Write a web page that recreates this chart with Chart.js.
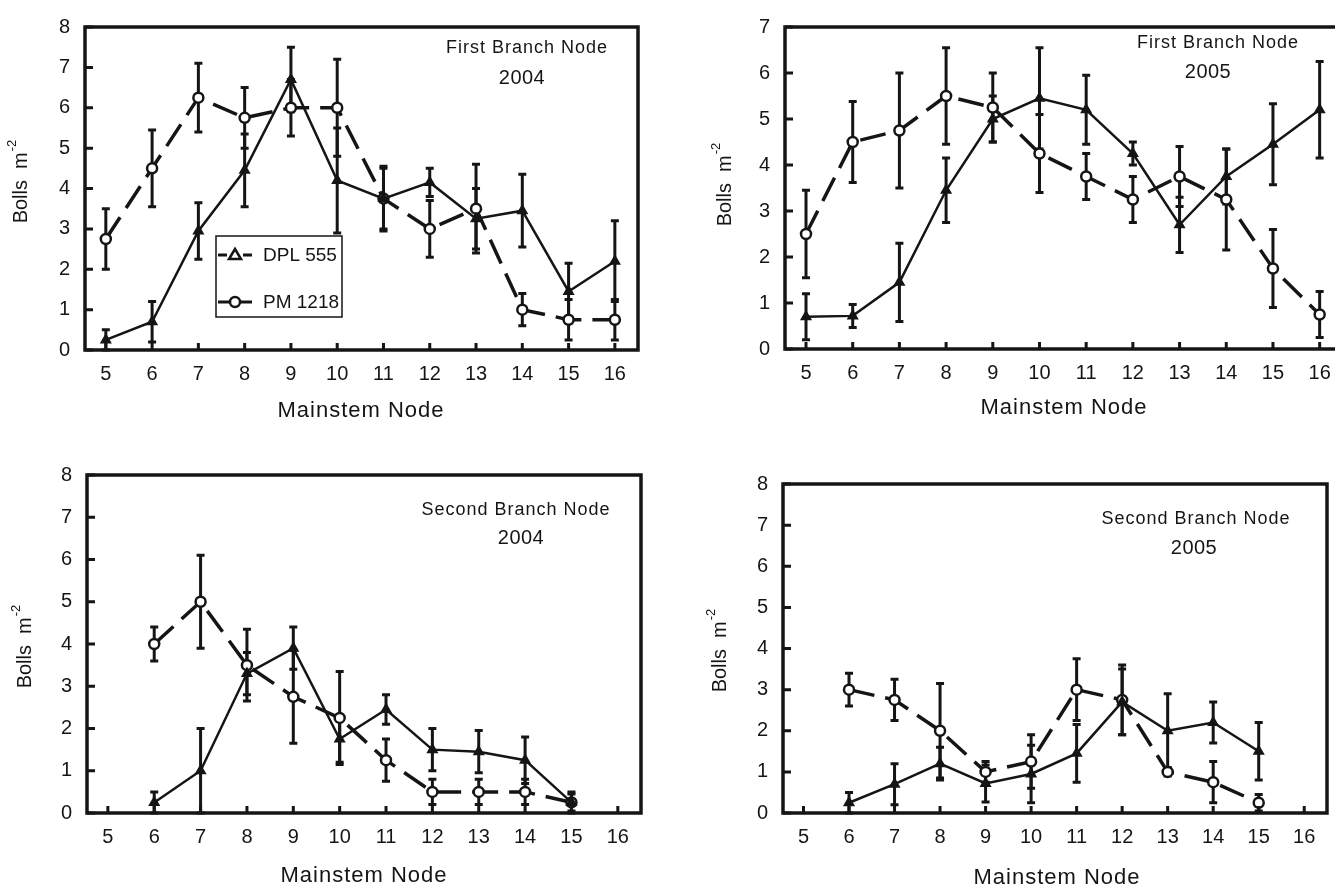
<!DOCTYPE html>
<html>
<head>
<meta charset="utf-8">
<script src="https://cdn.jsdelivr.net/npm/chart.js@4.4.1/dist/chart.umd.min.js"></script>
<style>
  html, body { margin: 0; padding: 0; background: #fff; overflow: hidden; width: 1335px; height: 886px; position: relative; }
  canvas { position: absolute; }
</style>
</head>
<body>
<canvas id="fb2004" width="668" height="440" style="left:0px;top:0px;width:668px;height:440px"></canvas>
<canvas id="fb2005" width="700" height="440" style="left:668px;top:0px;width:700px;height:440px"></canvas>
<canvas id="sb2004" width="668" height="446" style="left:0px;top:440px;width:668px;height:446px"></canvas>
<canvas id="sb2005" width="667" height="446" style="left:668px;top:440px;width:667px;height:446px"></canvas>
<script>
// Mainstem nodes on the x axis
const nodes = [5, 6, 7, 8, 9, 10, 11, 12, 13, 14, 15, 16];
const cultivars = ['DPL 555', 'PM 1218'];

// First branch node, 2004 (bolls per m², mean and SE)
const fb04Dpl   = [0.25, 0.7, 2.95, 4.45, 6.7, 4.2, 3.75, 4.15, 3.25, 3.45, 1.45, 2.2];
const fb04DplSe = [0.25, 0.5, 0.7, 0.9, 0.8, 1.3, 0.8, 0.35, 0.75, 0.9, 0.7, 1.0];
const fb04Pm    = [2.75, 4.5, 6.25, 5.75, 6.0, 6.0, 3.75, 3.0, 3.5, 1.0, 0.75, 0.75];
const fb04PmSe  = [0.75, 0.95, 0.85, 0.75, 0.7, 1.2, 0.75, 0.7, 1.1, 0.4, 0.5, 0.5];

// First branch node, 2005
const fb05Dpl   = [0.7, 0.72, 1.45, 3.45, 5.0, 5.45, 5.2, 4.25, 2.7, 3.75, 4.45, 5.2];
const fb05DplSe = [0.5, 0.25, 0.85, 0.7, 0.5, 1.1, 0.75, 0.25, 0.6, 0.6, 0.88, 1.05];
const fb05Pm    = [2.5, 4.5, 4.75, 5.5, 5.25, 4.25, 3.75, 3.25, 3.75, 3.25, 1.75, 0.75];
const fb05PmSe  = [0.95, 0.88, 1.25, 1.05, 0.75, 0.85, 0.5, 0.5, 0.65, 1.1, 0.85, 0.5];

// Second branch node, 2004
const sb04Dpl   = [null, 0.25, 1.0, 3.3, 3.9, 1.75, 2.45, 1.5, 1.45, 1.25, 0.25, null];
const sb04DplSe = [null, 0.25, 1.0, 0.5, 0.5, 0.55, 0.35, 0.5, 0.5, 0.55, 0.25, null];
const sb04Pm    = [null, 4.0, 5.0, 3.5, 2.75, 2.25, 1.25, 0.5, 0.5, 0.5, 0.25, null];
const sb04PmSe  = [null, 0.4, 1.1, 0.85, 1.1, 1.1, 0.5, 0.3, 0.3, 0.3, 0.2, null];

// Second branch node, 2005
const sb05Dpl   = [null, 0.25, 0.7, 1.2, 0.72, 0.95, 1.45, 2.7, 2.0, 2.2, 1.5, null];
const sb05DplSe = [null, 0.25, 0.5, 0.4, 0.45, 0.7, 0.7, 0.8, 0.9, 0.5, 0.7, null];
const sb05Pm    = [null, 3.0, 2.75, 2.0, 1.0, 1.25, 3.0, 2.75, 1.0, 0.75, 0.25, null];
const sb05PmSe  = [null, 0.4, 0.5, 1.15, 0.25, 0.65, 0.75, 0.85, 0.1, 0.5, 0.2, null];

const FONT = '"Liberation Sans", Arial, sans-serif';
const INK = '#151515';

function points(vals) {
  return nodes.map((n, i) => ({ x: n, y: vals[i] }));
}

// Frame, inward ticks, error bars, axis titles, panel label and legend
const decor = {
  id: 'decor',
  beforeDatasetsDraw(chart) {
    const ctx = chart.ctx, xs = chart.scales.x, ys = chart.scales.y;
    ctx.save();
    ctx.strokeStyle = INK;
    ctx.lineWidth = 3;
    chart.data.datasets.forEach(ds => {
      ds.data.forEach((p, i) => {
        const e = ds.errors[i];
        if (p.y == null || e == null) return;
        const x = xs.getPixelForValue(p.x);
        const yt = ys.getPixelForValue(p.y + e);
        const yb = ys.getPixelForValue(Math.max(0, p.y - e));
        ctx.beginPath();
        ctx.moveTo(x, yt); ctx.lineTo(x, yb);
        ctx.moveTo(x - 4, yt); ctx.lineTo(x + 4, yt);
        ctx.moveTo(x - 4, yb); ctx.lineTo(x + 4, yb);
        ctx.stroke();
      });
    });
    ctx.restore();
  },
  afterDraw(chart, args, o) {
    const ctx = chart.ctx, a = chart.chartArea;
    const xs = chart.scales.x, ys = chart.scales.y;
    ctx.save();
    // plot frame
    ctx.strokeStyle = INK;
    ctx.lineWidth = 3.5;
    ctx.strokeRect(a.left, a.top, a.right - a.left, a.bottom - a.top);
    // inward tick marks
    ctx.lineWidth = 3;
    ctx.beginPath();
    xs.ticks.forEach(t => {
      const x = xs.getPixelForValue(t.value);
      ctx.moveTo(x, a.bottom); ctx.lineTo(x, a.bottom - 7);
    });
    ys.ticks.forEach(t => {
      const y = ys.getPixelForValue(t.value);
      ctx.moveTo(a.left, y); ctx.lineTo(a.left + 8, y);
    });
    ctx.stroke();

    ctx.fillStyle = INK;
    ctx.textBaseline = 'middle';
    ctx.textAlign = 'center';
    // x axis title
    ctx.font = '22px ' + FONT;
    ctx.letterSpacing = '1px';
    ctx.fillText('Mainstem Node', o.xTitle[0], o.xTitle[1]);
    // y axis title with superscript
    ctx.save();
    ctx.translate(o.yTitle[0], o.yTitle[1]);
    ctx.rotate(-Math.PI / 2);
    ctx.letterSpacing = '0px';
    ctx.font = '20px ' + FONT;
    const main = 'Bolls  m';
    const w1 = ctx.measureText(main).width;
    ctx.font = '13px ' + FONT;
    const sup = '-2';
    const w2 = ctx.measureText(sup).width;
    const start = -(w1 + w2) / 2;
    ctx.textAlign = 'left';
    ctx.font = '20px ' + FONT;
    ctx.fillText(main, start, 0);
    ctx.font = '13px ' + FONT;
    ctx.fillText(sup, start + w1 + 1, -9);
    ctx.restore();
    // panel label
    ctx.textAlign = 'center';
    ctx.font = '18px ' + FONT;
    ctx.letterSpacing = '1px';
    ctx.fillText(o.label[0], o.labelPos[0], o.labelPos[1]);
    ctx.font = '20px ' + FONT;
    ctx.letterSpacing = '0.5px';
    ctx.fillText(o.label[1], o.yearPos[0], o.yearPos[1]);
    ctx.letterSpacing = '0px';

    // legend
    if (o.legend) {
      const L = o.legend;
      ctx.lineWidth = 1.5;
      ctx.strokeRect(L.x, L.y, L.w, L.h);
      chart.data.datasets.forEach((ds, i) => {
        const ry = L.y + L.rows[i];
        const x0 = L.x + 2, x1 = L.x + 36, xm = (x0 + x1) / 2;
        ctx.strokeStyle = INK;
        ctx.lineWidth = 3;
        ctx.beginPath();
        if (i === 0) {
          ctx.moveTo(x0, ry); ctx.lineTo(xm - 8, ry);
          ctx.moveTo(xm + 8, ry); ctx.lineTo(x1, ry);
        } else {
          ctx.moveTo(x0, ry); ctx.lineTo(x1, ry);
        }
        ctx.stroke();
        ctx.lineWidth = 2.5;
        ctx.beginPath();
        if (ds.pointStyle === 'triangle') {
          ctx.moveTo(xm, ry - 6); ctx.lineTo(xm + 6, ry + 4); ctx.lineTo(xm - 6, ry + 4); ctx.closePath();
          ctx.fillStyle = '#fff'; ctx.fill(); ctx.stroke();
        } else {
          ctx.arc(xm, ry, 5, 0, Math.PI * 2);
          ctx.fillStyle = '#fff'; ctx.fill(); ctx.stroke();
        }
        ctx.fillStyle = INK;
        ctx.textAlign = 'left';
        ctx.font = '19px ' + FONT;
        ctx.fillText(ds.label, L.x + 47, ry + 1);
      });
    }
    ctx.restore();
  }
};

function panel(id, cfg) {
  const datasets = [
    {
      label: cultivars[0],
      data: points(cfg.dpl),
      errors: cfg.dplSe,
      borderColor: INK,
      borderWidth: 2.5,
      pointStyle: 'triangle',
      pointRadius: 5.5,
      pointBackgroundColor: INK,
      pointBorderColor: INK,
      pointBorderWidth: 1.5,
      tension: 0
    },
    {
      label: cultivars[1],
      data: points(cfg.pm),
      errors: cfg.pmSe,
      borderColor: INK,
      borderWidth: 3.5,
      borderDash: [26, 11],
      pointStyle: 'circle',
      pointRadius: 5,
      pointBackgroundColor: '#fff',
      pointBorderColor: INK,
      pointBorderWidth: 2.5,
      tension: 0
    }
  ];
  return new Chart(document.getElementById(id), {
    type: 'line',
    data: { datasets },
    plugins: [decor],
    options: {
      responsive: false,
      animation: false,
      devicePixelRatio: 1,
      layout: { padding: { top: cfg.padTop, right: cfg.padRight, left: 0, bottom: 0 } },
      plugins: {
        legend: { display: false },
        tooltip: { enabled: false },
        decor: cfg.decor
      },
      scales: {
        x: {
          type: 'linear',
          min: 4.55,
          max: 16.5,
          afterBuildTicks: s => { s.ticks = nodes.map(v => ({ value: v })); },
          afterFit: s => { s.height = cfg.xAxisH; },
          grid: { display: false, drawTicks: false },
          border: { display: false },
          ticks: { color: INK, padding: 12, font: { family: FONT, size: 20 }, maxRotation: 0, autoSkip: false }
        },
        y: {
          type: 'linear',
          min: 0,
          max: cfg.yMax,
          afterBuildTicks: s => {
            const t = [];
            for (let v = 0; v <= cfg.yMax; v++) t.push({ value: v });
            s.ticks = t;
          },
          afterFit: s => { s.width = cfg.yAxisW; },
          grid: { display: false, drawTicks: false },
          border: { display: false },
          ticks: { color: INK, padding: 15, font: { family: FONT, size: 20 } }
        }
      }
    }
  });
}

panel('fb2004', {
  dpl: fb04Dpl, dplSe: fb04DplSe, pm: fb04Pm, pmSe: fb04PmSe, yMax: 8,
  padTop: 14, padRight: 30, yAxisW: 85, xAxisH: 90,
  decor: {
    xTitle: [361, 411], yTitle: [21, 182],
    label: ['First Branch Node', '2004'], labelPos: [527, 48], yearPos: [522, 78],
    legend: { x: 216, y: 236, w: 126, h: 81, rows: [19, 66] }
  }
});

panel('fb2005', {
  dpl: fb05Dpl, dplSe: fb05DplSe, pm: fb05Pm, pmSe: fb05PmSe, yMax: 7,
  padTop: 14, padRight: 25, yAxisW: 117, xAxisH: 91,
  decor: {
    xTitle: [396, 408], yTitle: [57, 185],
    label: ['First Branch Node', '2005'], labelPos: [550, 43], yearPos: [540, 72]
  }
});

panel('sb2004', {
  dpl: sb04Dpl, dplSe: sb04DplSe, pm: sb04Pm, pmSe: sb04PmSe, yMax: 8,
  padTop: 35, padRight: 27, yAxisW: 87, xAxisH: 73,
  decor: {
    xTitle: [364, 436], yTitle: [25, 207],
    label: ['Second Branch Node', '2004'], labelPos: [516, 70], yearPos: [521, 98]
  }
});

panel('sb2005', {
  dpl: sb05Dpl, dplSe: sb05DplSe, pm: sb05Pm, pmSe: sb05PmSe, yMax: 8,
  padTop: 44, padRight: 8, yAxisW: 115, xAxisH: 73,
  decor: {
    xTitle: [389, 438], yTitle: [52, 211],
    label: ['Second Branch Node', '2005'], labelPos: [528, 79], yearPos: [526, 108]
  }
});
</script>
</body>
</html>
